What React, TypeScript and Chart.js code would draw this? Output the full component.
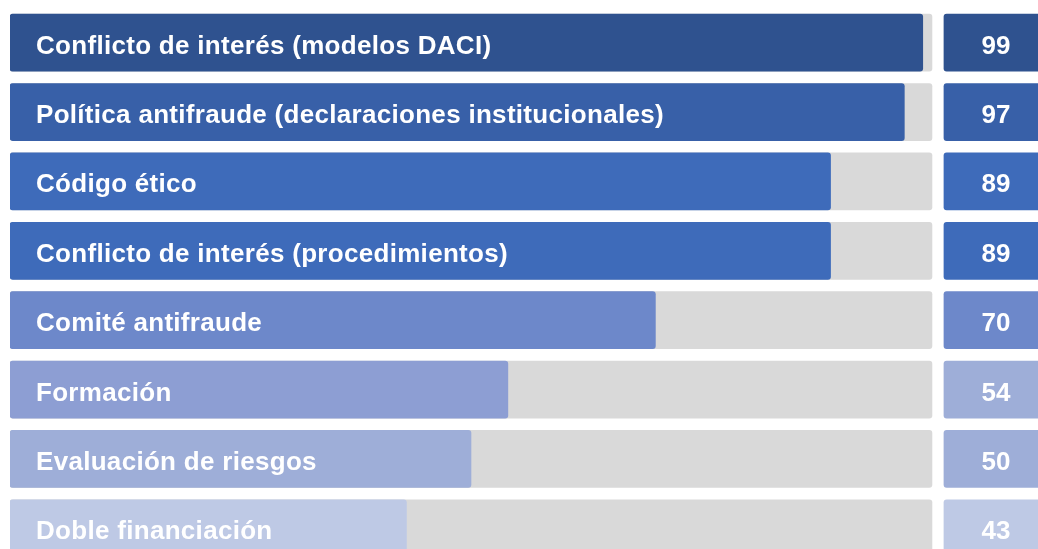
import React, { useEffect, useRef } from "react";
import { Chart, registerables } from "chart.js";

Chart.register(...registerables);

const categories = [
  "Conflicto de interés (modelos DACI)",
  "Política antifraude (declaraciones institucionales)",
  "Código ético",
  "Conflicto de interés (procedimientos)",
  "Comité antifraude",
  "Formación",
  "Evaluación de riesgos",
  "Doble financiación",
];
const values = [99, 97, 89, 89, 70, 54, 50, 43];
const trackValues = [100, 100, 100, 100, 100, 100, 100, 100];
const barColors = ["#2F528F", "#3860A8", "#3E6BBA", "#3E6BBA", "#6D88CA", "#8D9ED3", "#9EAED8", "#BEC9E5"];
const boxColors = ["#2F528F", "#3860A8", "#3E6BBA", "#3E6BBA", "#6D88CA", "#9EAED8", "#9EAED8", "#BEC9E5"];

const X_MAX = 111.5;
const BOX_START = 101.3;
const BOX_END = 112.6;
const FONT = 'bold 26px "Liberation Sans", Arial, sans-serif';

const textPlugin = {
  id: "barTexts",
  afterDatasetsDraw(chart: any) {
    const ctx = chart.ctx;
    ctx.save();
    ctx.font = FONT;
    ctx.fillStyle = "#FFFFFF";
    ctx.textBaseline = "alphabetic";
    const barMeta = chart.getDatasetMeta(0);
    (ctx as any).letterSpacing = "0.3px";
    barMeta.data.forEach((el: any, i: number) => {
      ctx.textAlign = "left";
      ctx.fillText(categories[i], chart.chartArea.left + 26, el.y + 11);
    });
    (ctx as any).letterSpacing = "0px";
    const boxMeta = chart.getDatasetMeta(2);
    boxMeta.data.forEach((el: any, i: number) => {
      ctx.textAlign = "center";
      ctx.fillText(String(values[i]), (el.x + el.base) / 2, el.y + 11);
    });
    ctx.restore();
  },
};

export default function App() {
  const ref = useRef<HTMLCanvasElement | null>(null);
  useEffect(() => {
    if (!ref.current) return;
    const chart = new Chart(ref.current, {
      type: "bar",
      data: {
        labels: categories,
        datasets: [
          {
            data: values,
            backgroundColor: barColors,
            borderRadius: 3,
            borderSkipped: false,
            barThickness: 57,
            order: 0,
          },
          {
            data: trackValues,
            backgroundColor: "#D9D9D9",
            borderRadius: 3,
            borderSkipped: false,
            barThickness: 57,
            order: 1,
          },
          {
            data: values.map(() => [BOX_START, BOX_END]),
            backgroundColor: boxColors,
            borderRadius: 3,
            borderSkipped: false,
            barThickness: 57,
            order: 2,
          },
        ],
      },
      options: {
        indexAxis: "y",
        animation: false,
        responsive: true,
        maintainAspectRatio: false,
        layout: { padding: { top: 8, left: 10, right: 0, bottom: 7 } },
        datasets: { bar: { grouped: false } },
        scales: {
          x: { display: false, min: 0, max: X_MAX },
          y: { display: false },
        },
        plugins: {
          legend: { display: false },
          tooltip: { enabled: false },
        },
      },
      plugins: [textPlugin],
    } as any);
    return () => chart.destroy();
  }, []);
  return (
    <div style={{ position: "absolute", left: 0, top: 0, width: 1038, height: 549, overflow: "hidden", background: "#fff" }}>
      <div style={{ width: 1038, height: 570 }}>
        <canvas ref={ref} />
      </div>
    </div>
  );
}
